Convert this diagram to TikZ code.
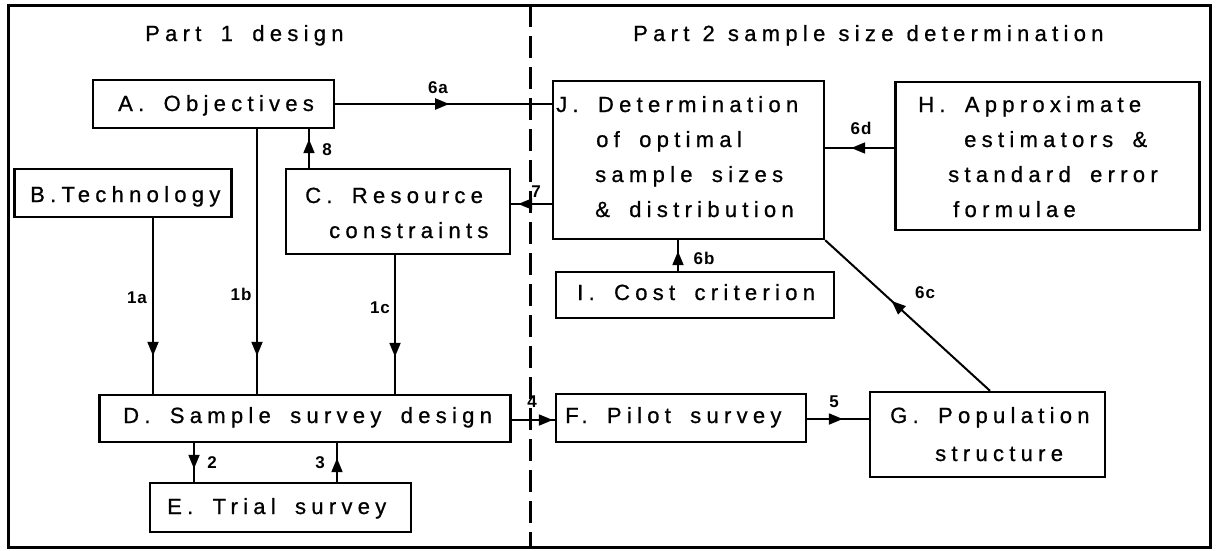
\documentclass[tikz,border=0pt]{standalone}
\usepackage{fontspec}
\setmainfont{Liberation Sans}
\newfontfamily\boxfont[LetterSpace=24,WordSpace=1.7,FakeBold=0.8]{Liberation Sans}
\newfontfamily\ttlfont[LetterSpace=24.1,WordSpace=1.15,FakeBold=0.81]{Liberation Sans}
\newfontfamily\labfont[LetterSpace=6]{Liberation Sans}
\usetikzlibrary{arrows.meta,decorations.markings}
\begin{document}
\begin{tikzpicture}[x=1pt,y=-1pt,
  box/.style={draw,line width=2.4pt,rectangle,inner sep=0pt},
  txt/.style={inner sep=0pt,anchor=base west,font=\boxfont\fontsize{22}{26}\selectfont},
  ttl/.style={inner sep=0pt,anchor=base west,font=\ttlfont\fontsize{22}{26}\selectfont},
  conn/.style={line width=2pt},
  lab/.style={inner sep=0pt,font=\labfont\bfseries\fontsize{17}{17}\selectfont},
  midarrow/.style={postaction={decorate},decoration={markings,
    mark=at position #1 with {\arrow{Triangle[length=14pt,width=11pt]}}}}
]
\useasboundingbox (0,0) rectangle (1216,550);
% frame and divider
\coordinate (fr1) at (8,5);
\coordinate (fr2) at (1210,547);
\draw[line width=3pt] (fr1) rectangle (fr2);
\coordinate (dv1) at (530,5);
\coordinate (dv2) at (530,547);
\draw[line width=3pt,dash pattern=on 22pt off 9pt] (dv1) -- (dv2);
% titles
\node[txt] (t1) at (145,41) {Part 1 design};
\node[ttl] (t2) at (633,41) {Part 2 sample size determination};
% boxes
\node[box,minimum width=241,minimum height=48] (A) at (213.5,104) {};
\node[box,minimum width=217,minimum height=48] (B) at (123,193) {};
\node[box,minimum width=224,minimum height=85] (C) at (398,211.5) {};
\node[box,minimum width=271,minimum height=158] (J) at (688.5,160) {};
\node[box,minimum width=304,minimum height=148] (H) at (1047.5,156) {};
\node[box,minimum width=278,minimum height=46] (I) at (695,295) {};
\node[box,minimum width=250,minimum height=48] (F) at (681,418) {};
\node[box,minimum width=235,minimum height=85] (G) at (987.5,434.5) {};
\node[box,minimum width=411,minimum height=47] (D) at (305,418.5) {};
\node[box,minimum width=261,minimum height=49] (E) at (280.5,507.5) {};
% box texts
\node[txt] (At) at (118,111) {A. Objectives};
\node[txt] (Bt) at (30,202) {B.Technology};
\node[txt] (Ct1) at (305,203) {C. Resource};
\node[txt] (Ct2) at (329,238) {constraints};
\node[txt] (Jt1) at (556,112) {J. Determination};
\node[txt] (Jt2) at (596,147) {of optimal};
\node[txt] (Jt3) at (595,182) {sample sizes};
\node[txt] (Jt4) at (595,217) {\& distribution};
\node[txt] (Ht1) at (918,112) {H. Approximate};
\node[txt] (Ht2) at (964,147) {estimators \&};
\node[txt] (Ht3) at (948,182) {standard error};
\node[txt] (Ht4) at (953,217) {formulae};
\node[txt] (It) at (577,300) {I. Cost criterion};
\node[txt] (Ft) at (565,423) {F. Pilot survey};
\node[txt] (Gt1) at (890,423) {G. Population};
\node[txt] (Gt2) at (935,461) {structure};
\node[txt] (Dt) at (123,423) {D. Sample survey design};
\node[txt] (Et) at (167,514) {E. Trial survey};
% helper coordinates
\coordinate (xa) at (153,0);
\coordinate (xb) at (257,0);
\coordinate (xc) at (395,0);
\coordinate (x8) at (309,0);
\coordinate (x2) at (194,0);
\coordinate (x3) at (337,0);
\coordinate (x6b) at (678,0);
\coordinate (x6c) at (990,0);
\coordinate (y7) at (0,204);
\coordinate (y6d) at (0,148);
\coordinate (y4) at (0,420);
\coordinate (y5) at (0,419);
% connectors
\draw[conn,midarrow=114pt] (A.east) -- (J.west |- A.east);
\draw[conn,midarrow=-38pt] (B.south -| xa) -- (D.north -| xa);
\draw[conn,midarrow=-38pt] (A.south -| xb) -- (D.north -| xb);
\draw[conn,midarrow=-37pt] (C.south -| xc) -- (D.north -| xc);
\draw[conn,midarrow=-10pt] (C.north -| x8) -- (A.south -| x8);
\draw[conn,midarrow=-7pt] (J.west |- y7) -- (C.east |- y7);
\draw[conn,midarrow=-26pt] (H.west |- y6d) -- (J.east |- y6d);
\draw[conn,midarrow=-2pt] (D.east |- y4) -- (F.west |- y4);
\draw[conn,midarrow=-13pt] (D.south -| x2) -- (E.north -| x2);
\draw[conn,midarrow=-15pt] (E.north -| x3) -- (D.south -| x3);
\draw[conn,midarrow=-11pt] (I.north -| x6b) -- (J.south -| x6b);
\draw[conn,midarrow=-26pt] (F.east |- y5) -- (G.west |- y5);
\draw[conn,midarrow=-90pt] (G.north -| x6c) -- (J.south east);
% labels
\node[lab] (l6a) at (438,88) {6a};
\node[lab] (l1a) at (137,298) {1a};
\node[lab] (l1b) at (241,294) {1b};
\node[lab] (l1c) at (380,308) {1c};
\node[lab] (l8) at (327,150) {8};
\node[lab] (l7) at (536,192) {7};
\node[lab] (l6d) at (861,128) {6d};
\node[lab] (l4) at (532,402) {4};
\node[lab] (l2) at (212,463) {2};
\node[lab] (l3) at (320,463) {3};
\node[lab] (l6b) at (704,258) {6b};
\node[lab] (l5) at (834,402) {5};
\node[lab] (l6c) at (925,293) {6c};
\end{tikzpicture}
\end{document}
